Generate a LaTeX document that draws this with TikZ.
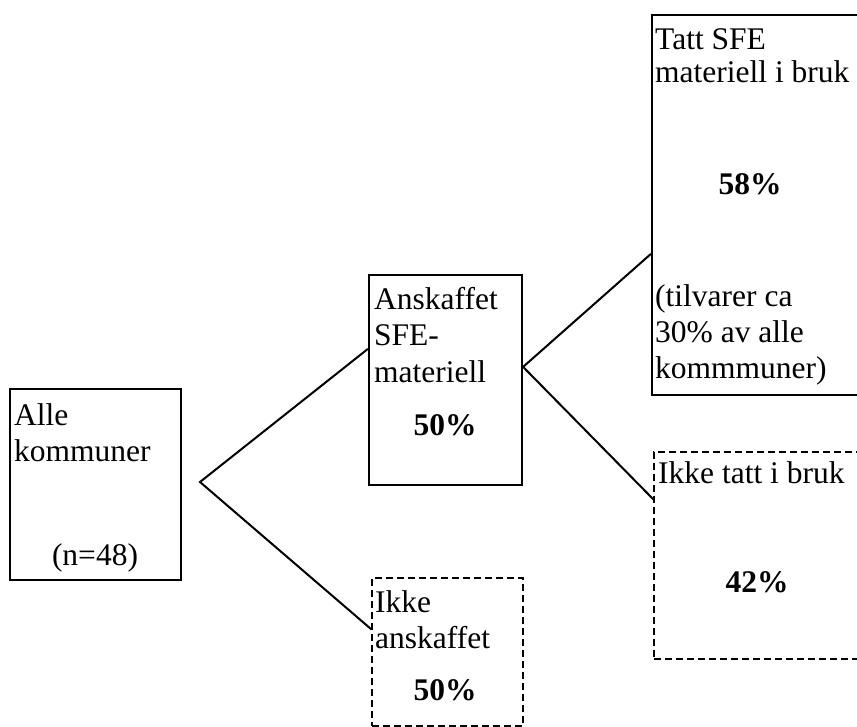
\documentclass[tikz,border=0pt]{standalone}
\usepackage{fontspec}
\setmainfont{Liberation Serif}
\usetikzlibrary{fit}
\tikzset{
  solidbox/.style={draw, line width=2.2pt, inner sep=0pt},
  dashbox/.style={draw, line width=1.4pt, dash pattern=on 7pt off 4pt, inner sep=0pt},
  link/.style={line width=2pt},
  lbl/.style={anchor=base west, inner sep=0pt, font=\fontsize{31.5}{36}\selectfont},
  pct/.style={anchor=base, inner sep=0pt, font=\fontsize{31.5}{36}\selectfont\bfseries},
}
\begin{document}
\begin{tikzpicture}[x=1pt,y=-1pt]
\useasboundingbox (0,0) rectangle (857,727);
\clip (0,0) rectangle (857,727);

% boxes
\node[solidbox, fit={(10,389) (181,580)}] (all) {};
\node[solidbox, fit={(369,275) (522,485)}] (acq) {};
\node[dashbox, fit={(372,578) (523,726)}] (notacq) {};
\node[solidbox, fit={(652,15) (875,395)}] (used) {};
\node[dashbox, fit={(654,452) (875,659)}] (unused) {};

% texts
\node[lbl] (allA) at (14,425) {Alle};
\node[lbl] (allB) at (14,461) {kommuner};
\node[lbl, anchor=base] (allN) at (95,565) {(n=48)};

\node[lbl] (acqA) at (374,310) {Anskaffet};
\node[lbl] (acqB) at (374,345) {SFE-};
\node[lbl] (acqC) at (374,382) {materiell};
\node[pct] (acqP) at (445,435) {50\%};

\node[lbl] (notA) at (375,612) {Ikke};
\node[lbl] (notB) at (375,648) {anskaffet};
\node[pct] (notP) at (445,700) {50\%};

\node[lbl] (useA) at (655,50) {Tatt SFE};
\node[lbl] (useB) at (655,83) {materiell i bruk};
\node[pct] (useP) at (750,195) {58\%};
\node[lbl] (useC) at (655,307) {(tilvarer ca};
\node[lbl] (useD) at (655,343) {30\% av alle};
\node[lbl] (useE) at (655,378) {kommmuner)};

\node[lbl] (unA) at (658,483) {Ikke tatt i bruk};
\node[pct] (unP) at (757,592) {42\%};

% connectors
\coordinate (fork) at (200,482);
\draw[link] ([yshift=-75pt]acq.north west) -- (fork) -- ([yshift=-52pt]notacq.north west);
\draw[link] ([yshift=-240pt]used.north west) -- ([yshift=-93pt]acq.north east) -- ([yshift=-48pt]unused.north west);
\end{tikzpicture}
\end{document}
